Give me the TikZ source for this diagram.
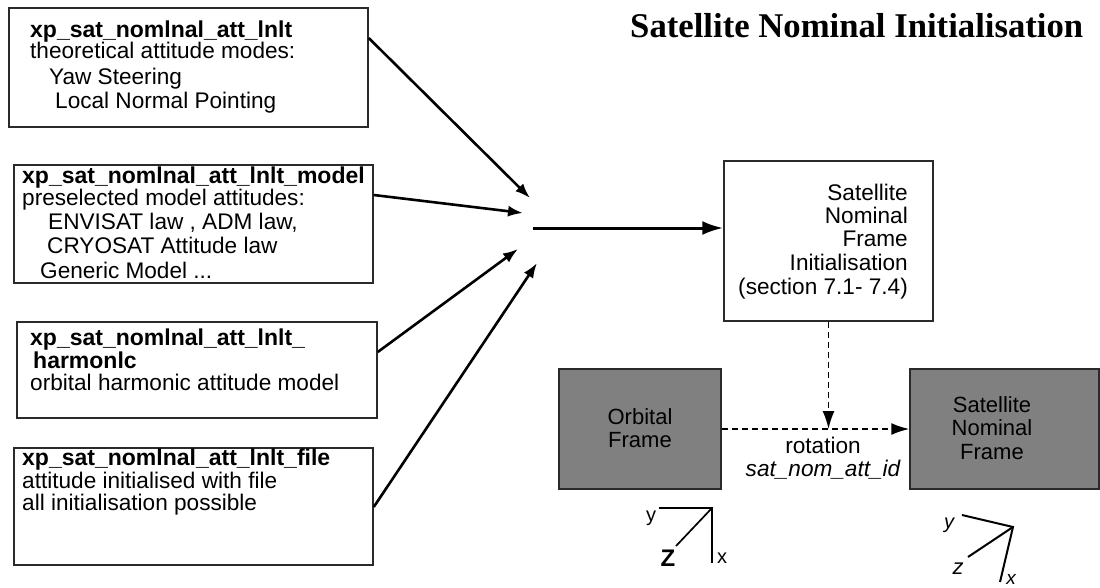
\documentclass[tikz,border=0pt]{standalone}
\usepackage{fontspec}
\setmainfont{Liberation Sans}
\newfontfamily\titlefont{Liberation Serif}
\usetikzlibrary{arrows.meta}
\definecolor{boxgray}{HTML}{808080}
\definecolor{edge}{HTML}{2A2A2A}
\newcommand{\bt}[1]{{\fontsize{23}{23}\selectfont\bfseries #1}}
\begin{document}
\begin{tikzpicture}[x=1pt,y=-1pt,
  box/.style={draw=edge, line width=1.5pt, fill=white, inner sep=0pt},
  gbox/.style={draw=edge, line width=1.5pt, fill=boxgray, inner sep=0pt},
  txt/.style={inner sep=0pt, font=\fontsize{22.6}{23}\selectfont, text=black},
  arr/.style={line width=2.6pt, -{Latex[length=15pt,width=11pt]}},
  mainarr/.style={line width=3pt, -{Latex[length=21pt,width=14pt]}},
  darr/.style={line width=1.7pt, dash pattern=on 6pt off 4pt, -{Latex[length=18pt,width=12pt]}},
  axis/.style={line width=2.4pt, line cap=butt},
  axlabel/.style={inner sep=0pt, font=\fontsize{20}{20}\selectfont}
]
\useasboundingbox (0,0) rectangle (1100,587);

% title
\node[inner sep=0pt, anchor=base west, font=\titlefont\bfseries\fontsize{34.7}{36}\selectfont] (title) at (630,37) {Satellite Nominal Initialisation};

% left boxes
\node[box, minimum width=359pt, minimum height=119pt] (b1) at (188.5,67.5) {};
\node[box, minimum width=359pt, minimum height=118pt] (b2) at (193.5,224) {};
\node[box, minimum width=360pt, minimum height=96pt] (b3) at (197,370) {};
\node[box, minimum width=359pt, minimum height=117pt] (b4) at (193.5,506.5) {};

\node[txt, anchor=base west] (b1t) at (30,37) {\begin{tabular}[t]{@{}l@{}}\bt{xp\_sat\_nomlnal\_att\_lnlt}\\[-2pt]
theoretical attitude modes:\\[3pt]
\hspace{19pt}Yaw Steering\\[1pt]
\hspace{25pt}Local Normal Pointing\end{tabular}};

\node[txt, anchor=base west] (b2t) at (22,183) {\begin{tabular}[t]{@{}l@{}}\bt{xp\_sat\_nomlnal\_att\_lnlt\_model}\\[-1pt]
preselected model attitudes:\\[1pt]
\hspace{26pt}ENVISAT law , ADM law,\\[1pt]
\hspace{25pt}CRYOSAT Attitude law\\[1pt]
\hspace{18pt}Generic Model ...\end{tabular}};

\node[txt, anchor=base west] (b3t) at (30,345) {\begin{tabular}[t]{@{}l@{}}\bt{xp\_sat\_nomlnal\_att\_lnlt\_}\\
\hspace{3pt}\bt{harmonlc}\\[-1pt]
orbital harmonic attitude model\end{tabular}};

\node[txt, anchor=base west] (b4t) at (22,465) {\begin{tabular}[t]{@{}l@{}}\bt{xp\_sat\_nomlnal\_att\_lnlt\_file}\\
attitude initialised with file\\[-1pt]
all initialisation possible\end{tabular}};

% right box
\node[box, minimum width=209pt, minimum height=160pt] (init) at (828.5,241) {};
\node[txt, anchor=base east] (initt) at (908,200) {\begin{tabular}[t]{@{}r@{}}Satellite\\[0.3pt]
Nominal\\[0.3pt]
Frame\\[0.3pt]
Initialisation\\[0.3pt]
(section 7.1- 7.4)\end{tabular}};

% gray frames
\node[gbox, minimum width=162pt, minimum height=120pt] (of) at (640,429) {};
\node[txt, align=center, font=\fontsize{22}{23.3}\selectfont] (oft) at (640,428) {Orbital\\Frame};
\node[gbox, minimum width=189pt, minimum height=120pt] (sb) at (1004.5,429) {};
\node[txt, align=center, font=\fontsize{22}{23.3}\selectfont] (sbt) at (992,428) {Satellite\\Nominal\\Frame};

% converging arrows
\coordinate (t1) at (530,198);
\coordinate (t2) at (523,213);
\coordinate (t3) at (518,249);
\coordinate (t4) at (537,263);
\coordinate (hub) at (533,228);
\draw[arr] (b1.east |- 0,38) -- (t1);
\draw[arr] (b2.east |- 0,195) -- (t2);
\draw[arr] (b3.east |- 0,352) -- (t3);
\draw[arr] (b4.east |- 0,507) -- (t4);
\draw[mainarr] (hub) -- (init.west |- hub);

% dashed arrows
\draw[darr] (of.east) -- (sb.west);
\coordinate (meet) at (init.south |- of.east);
\draw[darr] (init.south) -- (meet);
\node[txt, anchor=base] (rot) at (823,453) {\begin{tabular}[t]{@{}c@{}}rotation\\\itshape sat\_nom\_att\_id\end{tabular}};

% orbital frame axes
\coordinate (oc) at (712,508);
\coordinate (oy) at (659,508);
\coordinate (ox) at (712,563);
\coordinate (oz) at (676,546);
\draw[axis] (oy) -- (oc) -- (ox);
\draw[line width=1.7pt] (oc) -- (oz);
\node[axlabel, anchor=base] (oyl) at (651,521) {y};
\node[axlabel, anchor=base, font=\bfseries\fontsize{24}{24}\selectfont] (ozl) at (668,566) {Z};
\node[axlabel, anchor=base west] (oxl) at (717,563) {x};

% satellite frame axes
\coordinate (sc) at (1013,527);
\coordinate (sy) at (962,515);
\coordinate (sx) at (1000,582);
\coordinate (sz) at (968,557);
\draw[line width=2pt] (sy) -- (sc) -- (sx);
\draw[line width=2pt] (sc) -- (sz);
\node[axlabel, anchor=base, font=\itshape\fontsize{20}{20}\selectfont] (syl) at (949,528) {y};
\node[axlabel, anchor=base, font=\itshape\fontsize{22}{22}\selectfont] (szl) at (958,574) {z};
\node[axlabel, anchor=base, font=\itshape\fontsize{19}{19}\selectfont] (sxl) at (1011,584) {x};
\end{tikzpicture}
\end{document}
